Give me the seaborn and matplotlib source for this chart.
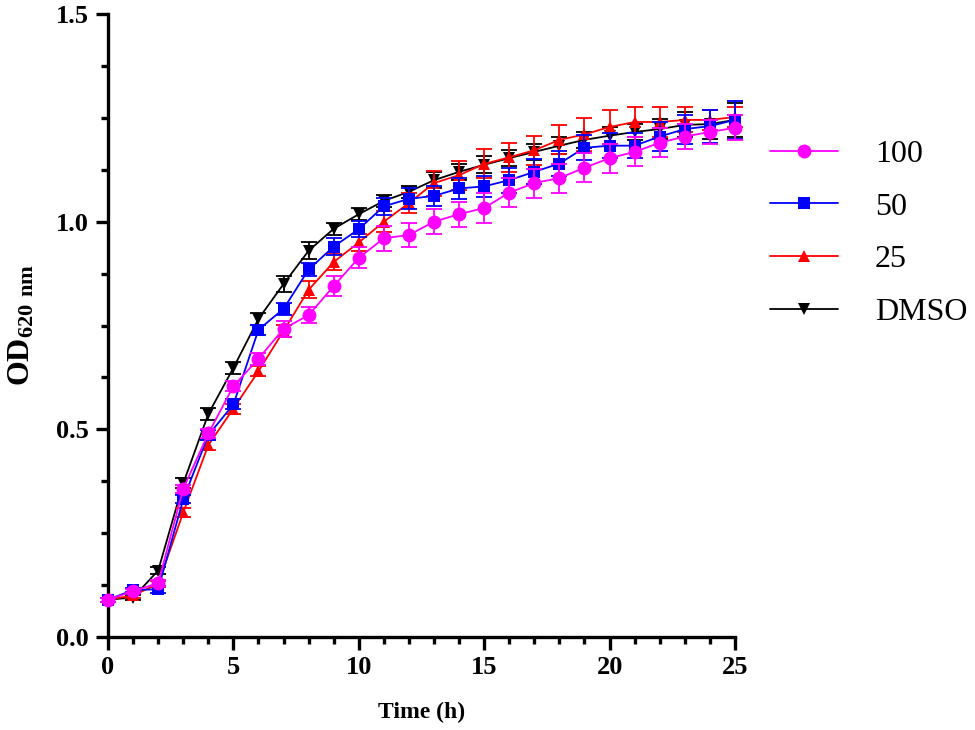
import numpy as np
import pandas as pd
import matplotlib
matplotlib.use("Agg")
import matplotlib.pyplot as plt
import seaborn as sns
from matplotlib.ticker import MultipleLocator

# 數據
time_h = list(range(26))
od_100 = [0.09, 0.11, 0.13, 0.357, 0.49, 0.604, 0.67, 0.742, 0.775, 0.845, 0.913, 0.96, 0.968,
          1.0, 1.018, 1.033, 1.07, 1.093, 1.105, 1.13, 1.153, 1.168, 1.19, 1.205, 1.216, 1.226]
od_50 = [0.09, 0.113, 0.115, 0.332, 0.486, 0.56, 0.74, 0.79, 0.885, 0.94, 0.982, 1.037, 1.055,
         1.062, 1.08, 1.085, 1.10, 1.12, 1.14, 1.178, 1.183, 1.183, 1.205, 1.223, 1.23, 1.245]
od_25 = [0.09, 0.10, 0.128, 0.30, 0.462, 0.55, 0.64, 0.737, 0.836, 0.903, 0.95, 1.0, 1.045,
         1.093, 1.112, 1.139, 1.155, 1.172, 1.197, 1.21, 1.228, 1.24, 1.24, 1.245, 1.245, 1.252]
od_dmso = [0.09, 0.095, 0.16, 0.37, 0.537, 0.648, 0.766, 0.85, 0.93, 0.983, 1.018, 1.05, 1.072,
           1.10, 1.12, 1.137, 1.153, 1.168, 1.183, 1.197, 1.207, 1.216, 1.223, 1.233, 1.235, 1.245]
err_100 = [0.005, 0.005, 0.008, 0.01, 0.012, 0.012, 0.015, 0.02, 0.02, 0.025, 0.025, 0.03, 0.03,
           0.03, 0.03, 0.035, 0.035, 0.035, 0.035, 0.035, 0.035, 0.035, 0.035, 0.03, 0.03, 0.03]
err_50 = [0.005, 0.005, 0.008, 0.01, 0.012, 0.012, 0.012, 0.015, 0.015, 0.02, 0.02, 0.02, 0.025,
          0.025, 0.025, 0.025, 0.03, 0.03, 0.03, 0.03, 0.03, 0.03, 0.035, 0.035, 0.04, 0.045]
err_25 = [0.005, 0.005, 0.008, 0.01, 0.012, 0.012, 0.012, 0.015, 0.02, 0.02, 0.02, 0.025, 0.025,
          0.03, 0.035, 0.035, 0.035, 0.035, 0.035, 0.04, 0.04, 0.035, 0.035, 0.03, 0.025, 0.025]
err_dmso = [0.005, 0.005, 0.008, 0.012, 0.015, 0.015, 0.015, 0.02, 0.02, 0.015, 0.015, 0.015, 0.015,
            0.02, 0.02, 0.02, 0.02, 0.02, 0.02, 0.02, 0.02, 0.02, 0.025, 0.03, 0.035, 0.04]

groups = ["100", "50", "25", "DMSO"]
colors = {"100": "#ff00ff", "50": "#0000ff", "25": "#ff0000", "DMSO": "#000000"}
markers = {"100": "o", "50": "s", "25": "^", "DMSO": "v"}
msize = {"100": 10, "50": 9, "25": 9, "DMSO": 9}
zorders = {"100": 6, "50": 5, "25": 4, "DMSO": 3}

vals = {"100": od_100, "50": od_50, "25": od_25, "DMSO": od_dmso}
errs = {"100": err_100, "50": err_50, "25": err_25, "DMSO": err_dmso}

df = pd.concat([pd.DataFrame({"Time": time_h, "OD": vals[g], "err": errs[g], "group": g})
                for g in groups], ignore_index=True)

sns.set_style("ticks")
plt.rcParams['font.family'] = ['Liberation Serif', 'DejaVu Serif']
plt.rcParams['mathtext.fontset'] = 'custom'
plt.rcParams['mathtext.rm'] = 'Liberation Serif'
plt.rcParams['mathtext.bf'] = 'Liberation Serif:bold'
plt.rcParams['text.color'] = 'black'
plt.rcParams['axes.labelcolor'] = 'black'
plt.rcParams['xtick.color'] = 'black'
plt.rcParams['ytick.color'] = 'black'
plt.rcParams['axes.edgecolor'] = 'black'

fig = plt.figure(figsize=(9.75, 7.3), dpi=100)
ax = fig.add_axes([0.1108, 0.1274, 0.643, 0.8534])

for g in groups[::-1]:
    sub = df[df["group"] == g]
    ax.errorbar(sub["Time"], sub["OD"], yerr=sub["err"], fmt="none", ecolor=colors[g],
                elinewidth=1.3, capsize=6, capthick=1.3, zorder=zorders[g], clip_on=False)
    sns.lineplot(data=sub, x="Time", y="OD", ax=ax, color=colors[g], marker=markers[g],
                 markersize=msize[g], markeredgewidth=0, linewidth=1.3, label=g,
                 zorder=zorders[g] + 0.5, clip_on=False)

ax.set_xlim(0, 25)
ax.set_ylim(0, 1.5)
ax.xaxis.set_major_locator(MultipleLocator(5))
ax.xaxis.set_minor_locator(MultipleLocator(1))
ax.yaxis.set_major_locator(MultipleLocator(0.5))
ax.yaxis.set_minor_locator(MultipleLocator(0.125))
ax.yaxis.set_major_formatter(matplotlib.ticker.FormatStrFormatter('%.1f'))
sns.despine(ax=ax)
for s in ["left", "bottom"]:
    ax.spines[s].set_linewidth(2.4)
    ax.spines[s].set_color("black")
ax.tick_params(which="major", length=9, width=2.4, labelsize=19, direction="out", pad=5)
ax.tick_params(which="minor", length=5, width=2.4, direction="out")
for lab in ax.get_xticklabels() + ax.get_yticklabels():
    lab.set_fontweight("bold")

ax.set_xlabel("Time (h)", fontsize=17, fontweight="bold", labelpad=16)
ax.set_ylabel(r"$\mathbf{OD_{620\ nm}}$", fontsize=23, labelpad=14)

handles, labels = ax.get_legend_handles_labels()
order = [labels.index(g) for g in groups]
ax.legend([handles[i] for i in order], [labels[i] for i in order], loc="upper left",
          bbox_to_anchor=(1.035, 0.819), borderaxespad=0, frameon=False, fontsize=23,
          handlelength=2.13, labelspacing=0.73, handletextpad=1.16)

fig.savefig("out.png", dpi=100)
